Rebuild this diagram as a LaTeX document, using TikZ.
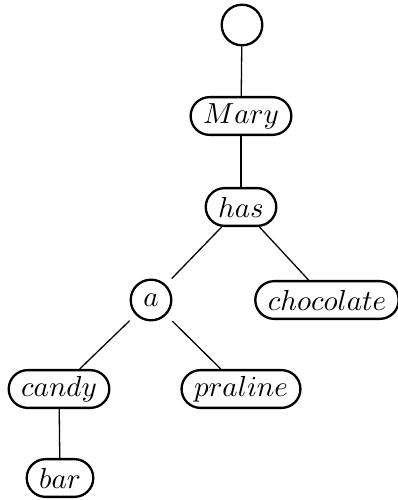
\documentclass[tikz,border=0pt]{standalone}
\begin{document}
\begin{tikzpicture}[
  x=0.3448pt, y=-0.3448pt,
  word/.style={draw, line width=0.8pt, rounded corners=6.5pt,
               minimum height=13pt, inner xsep=4.3pt, inner ysep=0pt},
  dot/.style={draw, line width=0.8pt, rounded corners=7pt,
              minimum size=14pt, inner sep=0pt},
  edge/.style={line width=0.45pt}
]
\useasboundingbox (0,0) rectangle (398,500);

% tree nodes
\node[dot]  (root)  at (242, 25)  {};
\node[word] (mary)  at (241, 116) {$Mary$};
\node[word] (has)   at (241, 207) {$has$};
\node[dot]  (a)     at (151, 300) {$a$};
\node[word] (choc)  at (327, 300) {$chocolate$};
\node[word] (candy) at (59, 389)  {$candy$};
\node[word] (pral)  at (241, 389) {$praline$};
\node[word] (bar)   at (60, 478)  {$bar$};

% branches
\draw[edge] (root) -- (mary);
\draw[edge] (mary) -- (has);
\draw[edge] (has) -- (a);
\draw[edge] (has) -- (choc);
\draw[edge] (a) -- (candy);
\draw[edge] (a) -- (pral);
\draw[edge] (candy) -- (bar);
\end{tikzpicture}
\end{document}
